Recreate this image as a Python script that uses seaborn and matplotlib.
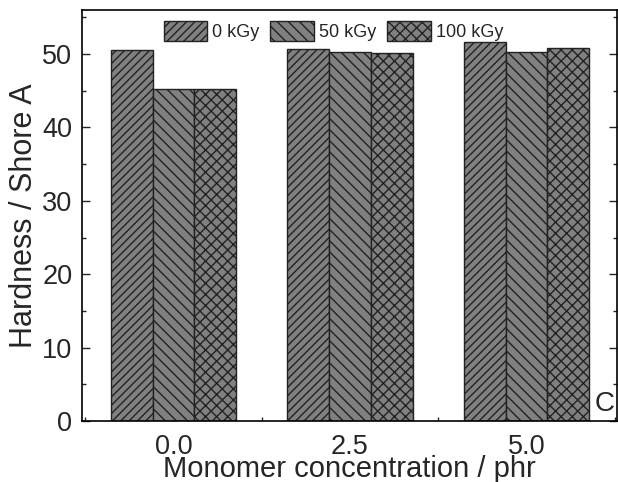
import matplotlib
matplotlib.use("Agg")
import matplotlib.pyplot as plt
import seaborn as sns
import pandas as pd
from matplotlib.ticker import MultipleLocator, FixedLocator

concentrations = ["0.0", "2.5", "5.0"]
doses = ["0 kGy", "50 kGy", "100 kGy"]
hard_0 = [50.6, 50.7, 51.7]
hard_50 = [45.3, 50.3, 50.3]
hard_100 = [45.3, 50.1, 50.8]

rows = []
for d, vals in zip(doses, [hard_0, hard_50, hard_100]):
    for c, v in zip(concentrations, vals):
        rows.append({"conc": c, "dose": d, "hardness": v})
df = pd.DataFrame(rows)

sns.set_style("ticks")
plt.rcParams["font.family"] = ["Liberation Sans", "DejaVu Sans"]
plt.rcParams["hatch.linewidth"] = 1.0

fig = plt.figure(figsize=(6.18, 4.82), dpi=100)
ax = fig.add_axes([82 / 618, 1 - 421 / 482, 535 / 618, 411 / 482])

sns.barplot(data=df, x="conc", y="hardness", hue="dose", order=concentrations,
            hue_order=doses, palette=["#808080"] * 3, saturation=1, width=0.71,
            edgecolor="#222222", linewidth=1.0, legend=False, ax=ax, errorbar=None)

hatches = ["////", "\\\\\\", "xxx"]
for cont, h in zip(ax.containers, hatches):
    for p in cont:
        p.set_hatch(h)
        p.set_edgecolor("#222222")

ax.set_xlim(-0.518, 2.513)
ax.set_ylim(0, 56)
ax.yaxis.set_major_locator(MultipleLocator(10))
ax.yaxis.set_minor_locator(MultipleLocator(5))
ax.xaxis.set_minor_locator(FixedLocator([-0.5, 0.5, 1.5, 2.5]))
ax.tick_params(axis="both", which="major", direction="in", length=6, width=1,
               labelsize=19.5, right=True, top=False)
ax.tick_params(axis="y", which="major", pad=7)
ax.tick_params(axis="x", which="major", pad=9.5)
ax.tick_params(axis="both", which="minor", direction="in", length=3, width=1,
               right=True, top=False)
for s in ax.spines.values():
    s.set_linewidth(1.2)
    s.set_color("black")
    s.set_visible(True)

ax.set_xlabel("Monomer concentration / phr", fontsize=21, labelpad=-4)
ax.set_ylabel("Hardness / Shore A", fontsize=22, labelpad=2)

leg = ax.legend(ax.containers, doses, loc="upper center",
                bbox_to_anchor=(0.47, 1.0), ncol=3, frameon=False,
                fontsize=13, handlelength=2.4, handleheight=1.3,
                handletextpad=0.3, columnspacing=0.6, borderaxespad=0.2)

ax.text(0.995, 0.01, "C", transform=ax.transAxes, ha="right", va="bottom",
        fontsize=20)

fig.savefig("out.png", dpi=100)
